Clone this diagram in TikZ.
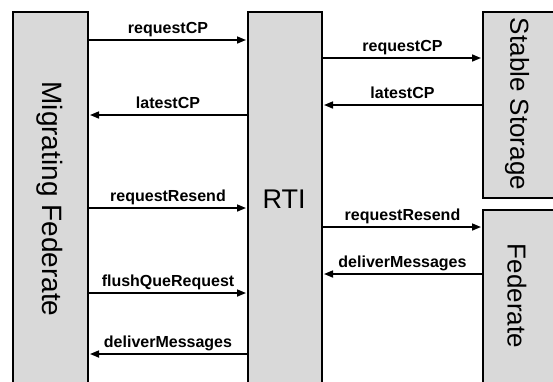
\documentclass[tikz,border=0pt]{standalone}
\usepackage{fontspec}
\setmainfont{Liberation Sans}
\usetikzlibrary{arrows.meta}
\definecolor{boxgray}{RGB}{217,217,217}
\begin{document}
\begin{tikzpicture}[x=1pt,y=1pt,
  box/.style={draw=black, line width=2pt, fill=boxgray, inner sep=0pt, anchor=north west},
  msg/.style={line width=1.6pt, -{Triangle[length=9pt,width=7pt]}, shorten >=1pt},
  lbl/.style={font=\bfseries\fontsize{16}{16}\selectfont, anchor=base, yshift=6.5pt, inner sep=0pt},
  big/.style={inner sep=0pt}]
\useasboundingbox (0,0) rectangle (553,-381);
\clip (0,0) rectangle (553,-381);
\node[box, minimum width=75pt, minimum height=400pt] (mf) at (12,-11) {};
\node[box, minimum width=74pt, minimum height=400pt] (rti) at (247,-11) {};
\node[box, minimum width=90pt, minimum height=186pt] (ss) at (482,-11) {};
\node[box, minimum width=90pt, minimum height=200pt] (fed) at (482,-209) {};

\node[big, rotate=-90, font=\fontsize{28}{28}\selectfont] (mft) at (49.5,-199) {Migrating Federate};
\node[big, font=\fontsize{27}{27}\selectfont] (rtit) at (284,-199) {RTI};
\node[big, rotate=-90, font=\fontsize{26}{26}\selectfont] (sst) at (517,-104) {Stable Storage};
\node[big, rotate=-90, font=\fontsize{26}{26}\selectfont] (fedt) at (517,-296) {Federate};

\draw[msg] (mf.east |- 0,-40) -- node[lbl]{requestCP} (rti.west |- 0,-40);
\draw[msg] (rti.west |- 0,-115) -- node[lbl]{latestCP} (mf.east |- 0,-115);
\draw[msg] (mf.east |- 0,-208) -- node[lbl]{requestResend} (rti.west |- 0,-208);
\draw[msg] (mf.east |- 0,-293) -- node[lbl]{flushQueRequest} (rti.west |- 0,-293);
\draw[msg] (rti.west |- 0,-354) -- node[lbl]{deliverMessages} (mf.east |- 0,-354);

\draw[msg] (rti.east |- 0,-58) -- node[lbl]{requestCP} (ss.west |- 0,-58);
\draw[msg] (ss.west |- 0,-105) -- node[lbl]{latestCP} (rti.east |- 0,-105);
\draw[msg] (rti.east |- 0,-227) -- node[lbl]{requestResend} (fed.west |- 0,-227);
\draw[msg] (fed.west |- 0,-274) -- node[lbl]{deliverMessages} (rti.east |- 0,-274);
\end{tikzpicture}
\end{document}
